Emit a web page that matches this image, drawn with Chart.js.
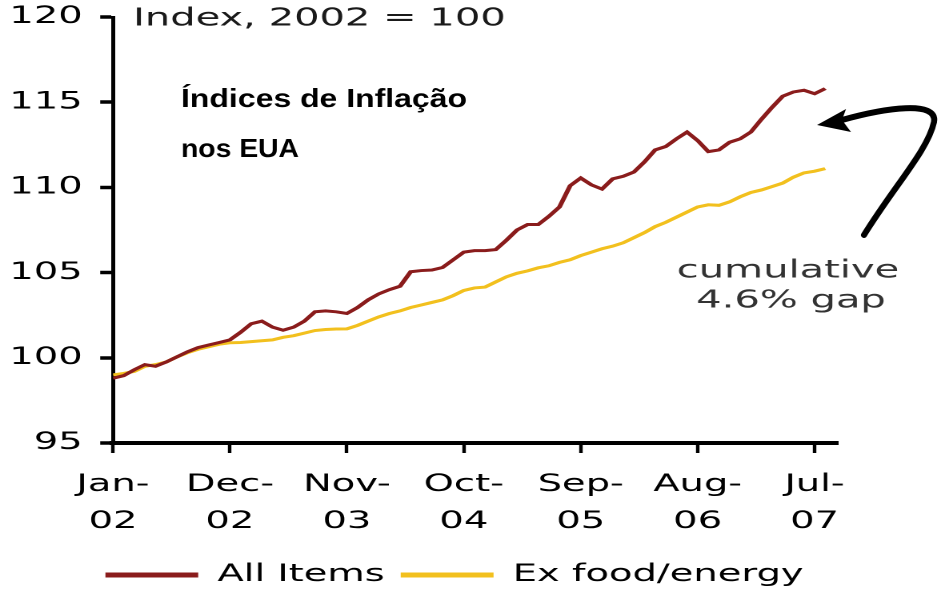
<!DOCTYPE html>
<html>
<head>
<meta charset="utf-8">
<script src="https://cdn.jsdelivr.net/npm/chart.js@4.4.1/dist/chart.umd.min.js"></script>
<style>
  html, body { margin: 0; padding: 0; background: #ffffff; overflow: hidden; }
  #wrap { position: absolute; left: 0; top: 0; width: 588px; height: 591px; transform-origin: 0 0; }
</style>
</head>
<body>
<div id="wrap"><canvas id="c"></canvas></div>
<script>
// ---- data ----
const categories = [
  'Jan-02','Feb-02','Mar-02','Apr-02','May-02','Jun-02','Jul-02','Aug-02','Sep-02','Oct-02','Nov-02','Dec-02',
  'Jan-03','Feb-03','Mar-03','Apr-03','May-03','Jun-03','Jul-03','Aug-03','Sep-03','Oct-03','Nov-03','Dec-03',
  'Jan-04','Feb-04','Mar-04','Apr-04','May-04','Jun-04','Jul-04','Aug-04','Sep-04','Oct-04','Nov-04','Dec-04',
  'Jan-05','Feb-05','Mar-05','Apr-05','May-05','Jun-05','Jul-05','Aug-05','Sep-05','Oct-05','Nov-05','Dec-05',
  'Jan-06','Feb-06','Mar-06','Apr-06','May-06','Jun-06','Jul-06','Aug-06','Sep-06','Oct-06','Nov-06','Dec-06',
  'Jan-07','Feb-07','Mar-07','Apr-07','May-07','Jun-07','Jul-07','Aug-07'
];
const allItems = [
  98.8, 98.95, 99.3, 99.6, 99.5, 99.75, 100.05, 100.35, 100.6, 100.75,
  100.9, 101.05, 101.5, 102.0, 102.15, 101.8, 101.62, 101.8, 102.15, 102.7,
  102.75, 102.7, 102.6, 102.95, 103.4, 103.75, 104.0, 104.2, 105.05, 105.12,
  105.15, 105.3, 105.75, 106.2, 106.29, 106.29, 106.35, 106.9, 107.5, 107.82,
  107.82, 108.3, 108.85, 110.1, 110.55, 110.15, 109.9, 110.5, 110.65, 110.9,
  111.5, 112.2, 112.4, 112.85, 113.25, 112.75, 112.1, 112.2, 112.65, 112.85,
  113.25, 114.0, 114.7, 115.35, 115.6, 115.7, 115.5, 115.8
];
const exFoodEnergy = [
  99.0, 99.08, 99.2, 99.5, 99.6, 99.75, 100.05, 100.3, 100.5, 100.65,
  100.8, 100.88, 100.9, 100.95, 101.0, 101.05, 101.2, 101.3, 101.45, 101.6,
  101.66, 101.69, 101.7, 101.9, 102.15, 102.4, 102.6, 102.75, 102.95, 103.1,
  103.25, 103.4, 103.65, 103.95, 104.1, 104.15, 104.45, 104.75, 104.96, 105.1,
  105.28, 105.4, 105.6, 105.75, 106.0, 106.2, 106.4, 106.55, 106.75, 107.05,
  107.35, 107.7, 107.95, 108.25, 108.55, 108.85, 108.98, 108.95, 109.15, 109.45,
  109.7, 109.85, 110.05, 110.25, 110.6, 110.85, 110.95, 111.1
];
const seriesNames = ['All Items', 'Ex food/energy'];
const yTicks = [95, 100, 105, 110, 115, 120];
const xTickEvery = 11;
const unitLabel = 'Index, 2002 = 100';
const titleLines = ['Índices de Inflação', 'nos EUA'];
const noteLines = ['cumulative', '4.6% gap'];

// ---- layout ----
const W = 588, H = 591, S = 941 / W;
document.getElementById('wrap').style.transform = 'scaleX(' + S + ')';

const FONT = '"DejaVu Sans", Verdana, sans-serif';
const RED = '#8a1c1c', YEL = '#f2c01e';
const RIGHT_PAD = 20;

const toPts = arr => arr.map((v, i) => ({ x: i, y: v }));

const annot = {
  id: 'annot',
  afterDraw(chart) {
    const ctx = chart.ctx;
    ctx.save();
    ctx.font = '25px ' + FONT;
    ctx.textBaseline = 'middle';
    ctx.textAlign = 'left';
    ctx.fillStyle = '#1a1a1a';
    ctx.fillText(unitLabel, 133 / S, 19);
    ctx.fillStyle = '#333';
    ctx.textAlign = 'center';
    ctx.fillText(noteLines[0], 788 / S, 271);
    ctx.fillText(noteLines[1], 791 / S, 301);
    ctx.restore();

    ctx.save();
    ctx.scale(1 / S, 1);
    ctx.fillStyle = '#000';
    ctx.font = 'bold 26px "Liberation Sans", Arial, sans-serif';
    ctx.textBaseline = 'alphabetic';
    ctx.textAlign = 'left';
    [[titleLines[0], 286, 107], [titleLines[1], 118, 157]].forEach(([t, w, y]) => {
      const m = ctx.measureText(t).width;
      ctx.save();
      ctx.translate(181, y);
      ctx.scale(w / m, 1);
      ctx.fillText(t, 0, 0);
      ctx.restore();
    });
    // curved arrow
    ctx.strokeStyle = '#000';
    ctx.lineWidth = 6;
    ctx.lineCap = 'round';
    ctx.beginPath();
    ctx.moveTo(864, 235);
    ctx.bezierCurveTo(895, 185, 928, 150, 934, 122);
    ctx.bezierCurveTo(938, 100, 885, 108, 842, 120);
    ctx.stroke();
    ctx.fillStyle = '#000';
    ctx.beginPath();
    ctx.moveTo(817, 125);
    ctx.lineTo(846, 109);
    ctx.lineTo(842, 120);
    ctx.lineTo(851, 132);
    ctx.closePath();
    ctx.fill();
    ctx.restore();
  }
};

new Chart(document.getElementById('c'), {
  type: 'line',
  data: {
    datasets: [
      { label: seriesNames[0], data: toPts(allItems), borderColor: RED, backgroundColor: RED,
        borderWidth: 3, pointRadius: 0, tension: 0 },
      { label: seriesNames[1], data: toPts(exFoodEnergy), borderColor: YEL, backgroundColor: YEL,
        borderWidth: 3, pointRadius: 0, tension: 0 }
    ]
  },
  options: {
    animation: false,
    responsive: true,
    maintainAspectRatio: false,
    devicePixelRatio: 2,
    layout: { autoPadding: false, padding: { top: 17, right: RIGHT_PAD, bottom: -6, left: 0 } },
    plugins: {
      legend: {
        display: true,
        position: 'bottom',
        labels: {
          boxWidth: 58,
          boxHeight: 5,
          padding: 10,
          color: '#000',
          font: { family: FONT, size: 24 },
          generateLabels: (chart) => Chart.defaults.plugins.legend.labels.generateLabels(chart)
            .map(l => Object.assign(l, { lineWidth: 0 }))
        }
      },
      tooltip: { enabled: false },
      title: { display: false }
    },
    scales: {
      x: {
        type: 'linear',
        position: 'bottom',
        min: 0,
        max: 68.2,
        afterFit: (s) => { s.height = 110; },
        ticks: {
          stepSize: xTickEvery,
          includeBounds: false,
          autoSkip: false,
          maxRotation: 0,
          padding: 13,
          color: '#000',
          font: { family: FONT, size: 24, lineHeight: 1.55 },
          callback: (v) => {
            if (v % xTickEvery !== 0 || !categories[v]) return null;
            const p = categories[v].split('-');
            return [p[0] + '-', p[1]];
          }
        },
        grid: { drawOnChartArea: false, drawTicks: true, tickLength: 10, tickWidth: 2.2, tickColor: '#000' },
        border: { display: true, color: '#000', width: 4 }
      },
      y: {
        type: 'linear',
        min: 95,
        max: 120,
        afterFit: (s) => { s.width = 113 / S; },
        afterBuildTicks: (s) => { s.ticks = yTicks.map(v => ({ value: v })); },
        ticks: {
          padding: 11,
          color: '#000',
          font: { family: FONT, size: 24, lineHeight: 0.3 }
        },
        grid: { drawOnChartArea: false, drawTicks: true, tickLength: 8, tickWidth: 3.5, tickColor: '#000' },
        border: { display: true, color: '#000', width: 2.5 }
      },
      yRight: {
        type: 'linear',
        position: 'right',
        display: true,
        afterFit: (s) => { s.width = W - RIGHT_PAD - 838 / S; },
        ticks: { display: false },
        grid: { display: false, drawTicks: false },
        border: { display: false }
      }
    }
  },
  plugins: [annot]
});
</script>
</body>
</html>
